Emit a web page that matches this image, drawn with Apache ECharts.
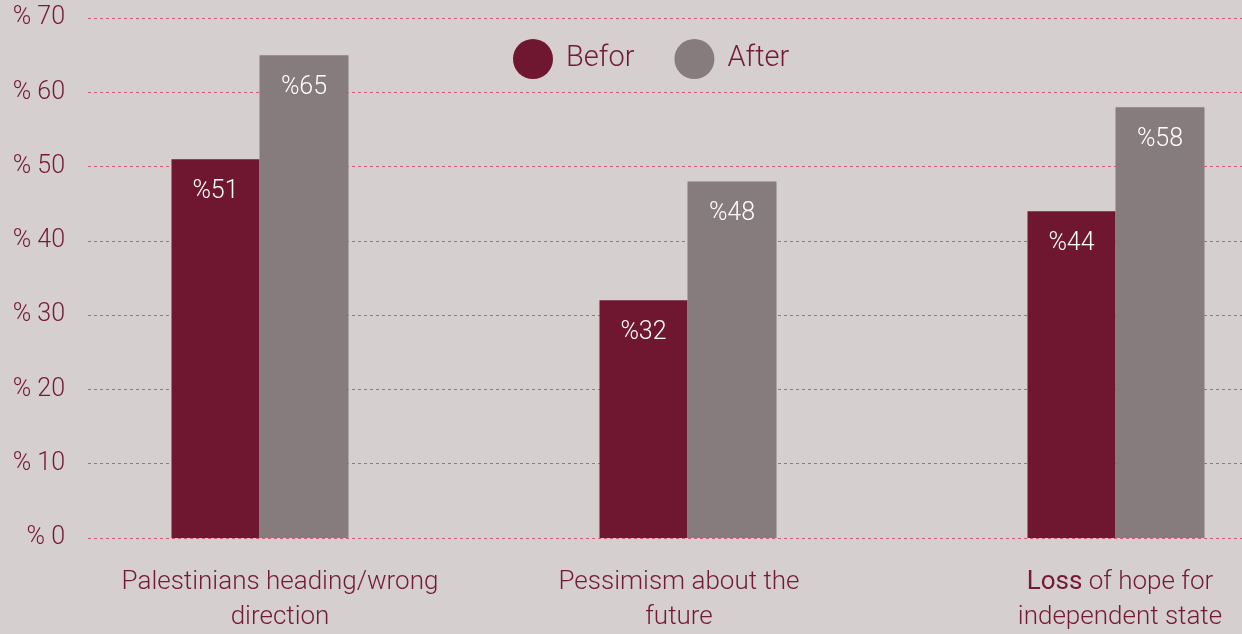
<!DOCTYPE html>
<html>
<head>
<meta charset="utf-8">
<script src="https://cdn.jsdelivr.net/npm/echarts@6/dist/echarts.min.js"></script>
<style>
  html, body { margin: 0; padding: 0; background: #d5cfcf; }
  #chart { width: 1242px; height: 634px; }
</style>
</head>
<body>
<div id="chart"></div>
<script>
// Survey results before and after, in percent
const categories = [
  'Palestinians heading/wrong\ndirection',
  'Pessimism about the\nfuture',
  '{b|Loss} of hope for\nindependent state'
];
const seriesNames = ['Befor', 'After'];
const beforValues = [51, 32, 44];
const afterValues = [65, 48, 58];
const yTicks = [0, 10, 20, 30, 40, 50, 60, 70];

const RED = '#6f1630';
const GREY = '#867b7d';
const TEXT = '#741a35';
const FONT = 'Roboto, "Liberation Sans", sans-serif';

// horizontal nudges for the category captions (left, right padding)
const captionPadding = [[0, 0, 0, 40], [0, 18, 0, 0], [0, 0, 0, 8]];
const categoryData = categories.map((c, i) => ({
  value: c,
  textStyle: { padding: captionPadding[i] }
}));

const chart = echarts.init(document.getElementById('chart'));

const barLabel = {
  show: true,
  position: 'insideTop',
  distance: 20,
  color: '#ffffff',
  fontSize: 25,
  fontWeight: 300,
  fontFamily: FONT,
  formatter: p => '%' + p.value
};

chart.setOption({
  backgroundColor: '#d5cfcf',
  textStyle: { fontFamily: FONT },
  legend: {
    data: seriesNames,
    top: 34,
    left: 508,
    icon: 'circle',
    itemWidth: 40,
    itemHeight: 40,
    itemGap: 40,
    textStyle: {
      color: TEXT, fontSize: 29, fontWeight: 300, fontFamily: FONT,
      padding: [0, 0, 0, 8]
    }
  },
  grid: [
    { left: 88, right: 0, top: 18, bottom: 96, outerBoundsMode: 'none' },
    { left: 46, width: 1284, top: 18, bottom: 96, outerBoundsMode: 'none' }
  ],
  xAxis: [
    { type: 'category', gridIndex: 0, data: categories, show: false },
    {
      type: 'category',
      gridIndex: 1,
      data: categoryData,
      axisLine: { show: false },
      axisTick: { show: false },
      axisLabel: {
        interval: 0,
        margin: 27,
        color: TEXT,
        fontSize: 26,
        fontWeight: 300,
        lineHeight: 35,
        fontFamily: FONT,
        rich: {
          b: { fontSize: 26, fontWeight: 400, color: TEXT, lineHeight: 35, fontFamily: FONT }
        }
      }
    }
  ],
  yAxis: [
    {
      type: 'value',
      gridIndex: 0,
      min: yTicks[0],
      max: yTicks[yTicks.length - 1],
      interval: 10,
      axisLine: { show: false },
      axisTick: { show: false },
      axisLabel: {
        margin: 23,
        color: TEXT,
        fontSize: 25,
        fontWeight: 300,
        fontFamily: FONT,
        formatter: v => '% ' + v
      },
      splitLine: { lineStyle: { color: '#d4587a', type: [3, 3], width: 1 } }
    },
    {
      type: 'value',
      gridIndex: 1,
      min: yTicks[0],
      max: yTicks[yTicks.length - 1],
      interval: 10,
      show: false,
      splitLine: { show: false }
    }
  ],
  series: [
    {
      name: seriesNames[0],
      type: 'bar',
      xAxisIndex: 1,
      yAxisIndex: 1,
      data: beforValues,
      barWidth: 88,
      barGap: '0%',
      itemStyle: { color: RED },
      label: barLabel
    },
    {
      name: seriesNames[1],
      type: 'bar',
      xAxisIndex: 1,
      yAxisIndex: 1,
      data: afterValues,
      barWidth: 89,
      barGap: '0%',
      itemStyle: { color: GREY },
      label: barLabel
    }
  ]
});
</script>
</body>
</html>
